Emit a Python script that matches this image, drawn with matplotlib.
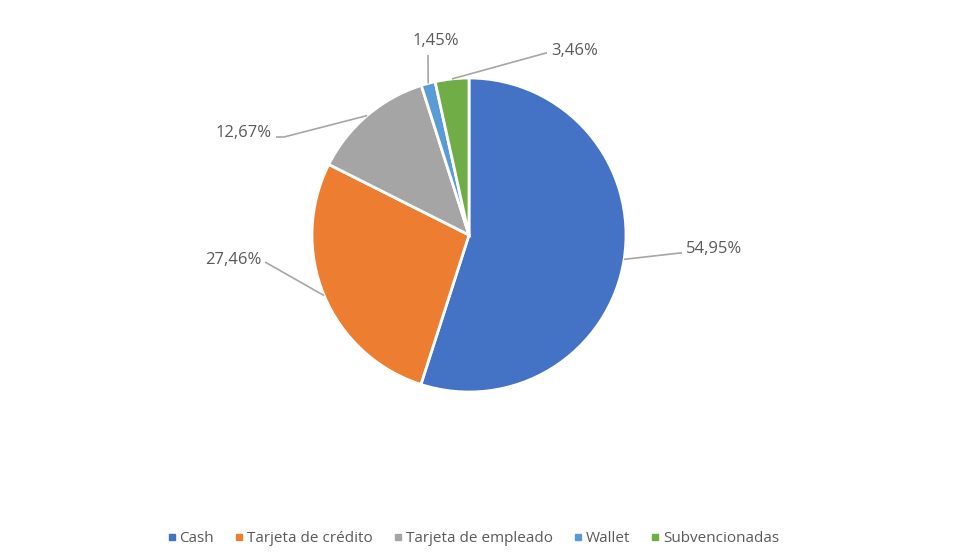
import numpy as np
import matplotlib.pyplot as plt
from matplotlib.lines import Line2D

# Data
categories = ['Cash', 'Tarjeta de crédito', 'Tarjeta de empleado', 'Wallet', 'Subvencionadas']
values = [54.95, 27.46, 12.67, 1.45, 3.46]
labels = ['54,95%', '27,46%', '12,67%', '1,45%', '3,46%']
colors = ['#4472C4', '#ED7D31', '#A5A5A5', '#5B9BD5', '#70AD47']

plt.rcParams['font.family'] = ['Open Sans', 'DejaVu Sans']

W, H = 980, 560
cx, cy, R = 469, 235, 157  # pie centre / radius in pixels

fig = plt.figure(figsize=(W / 100, H / 100), dpi=100)
ax = fig.add_axes([0, 0, 1, 1])


def px(x, y):
    # pixel position (from top-left) -> data coords
    return (x - cx) / R, (cy - y) / R


wedges, _ = ax.pie(values, colors=colors, startangle=90, counterclock=False,
                   radius=1, center=(0, 0), frame=True,
                   wedgeprops=dict(edgecolor='white', linewidth=2))
ax.set_xlim(-cx / R, (W - cx) / R)
ax.set_ylim(-(H - cy) / R, cy / R)
ax.set_aspect('equal')
ax.axis('off')

# label layout: elbow point, text anchor point, ha (pixels)
layout = [
    ((680, 253), (686, 249), 'left'),
    ((265, 262), (261, 260), 'right'),
    ((284, 137), (272, 133), 'right'),
    ((428, 55), (436, 41), 'center'),
    ((546, 53), (551, 51), 'left'),
]

for w, lab, (elbow, tpos, ha) in zip(wedges, labels, layout):
    ang = np.deg2rad((w.theta1 + w.theta2) / 2)
    ex, ey = np.cos(ang), np.sin(ang)
    bx, by = px(*elbow)
    tx, ty = px(*tpos)
    if ha == 'left':
        hx = tx - 4 / R
    elif ha == 'right':
        hx = tx + 4 / R
    else:
        hx = bx
    ax.plot([ex, bx, hx], [ey, by, by], color='#A6A6A6', lw=1.2, solid_capstyle='butt')
    ax.text(tx, ty, lab, ha=ha, va='center', fontsize=12, color='#595959')

handles = [Line2D([0], [0], marker='s', linestyle='none', markersize=5,
                  markerfacecolor=c, markeredgecolor=c) for c in colors]
fig.legend(handles, categories, loc='center', bbox_to_anchor=(0.482, 1 - 539 / H),
           ncol=5, frameon=False, fontsize=11, handletextpad=0.1,
           columnspacing=1.25, labelcolor='#595959', handlelength=0.8)

fig.savefig('out.png', dpi=100)
